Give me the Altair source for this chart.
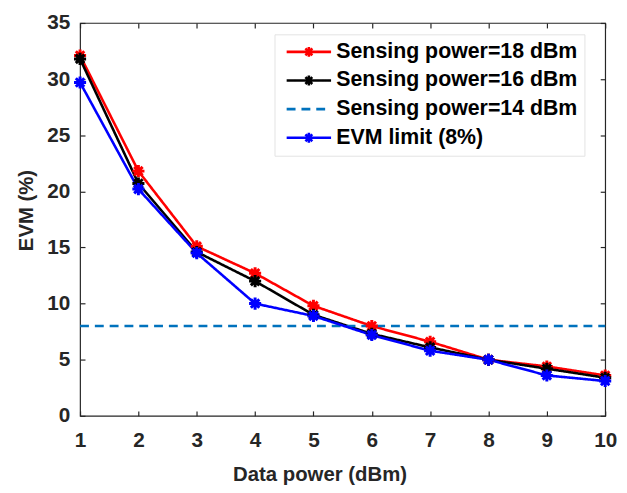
import altair as alt
import pandas as pd

# ---------------- data ----------------
x_vals = [1, 2, 3, 4, 5, 6, 7, 8, 9, 10]
evm_red = [32.1, 21.8, 15.1, 12.7, 9.8, 8.0, 6.6, 5.0, 4.4, 3.6]
evm_black = [31.8, 20.7, 14.6, 12.0, 9.0, 7.3, 6.1, 5.0, 4.2, 3.4]
evm_blue = [29.7, 20.2, 14.5, 10.0, 8.9, 7.2, 5.8, 5.0, 3.6, 3.1]
limit_x = [1, 10]
limit_y = [8, 8]

labels = ["Sensing power=18 dBm", "Sensing power=16 dBm",
          "Sensing power=14 dBm", "EVM limit (8%)"]
colors = ["#ff0000", "#000000", "#0072bd", "#0000ff"]
dashes = [[1, 0], [1, 0], [9, 6], [1, 0]]
widths = [2.6, 2.6, 1.5, 2.6]
y_ticks = [0, 5, 10, 15, 20, 25, 30, 35]

rows = []
for xv, yv in zip(x_vals, evm_red):
    rows.append({"x": xv, "y": yv, "series": labels[0]})
for xv, yv in zip(x_vals, evm_black):
    rows.append({"x": xv, "y": yv, "series": labels[1]})
for xv, yv in zip(limit_x, limit_y):
    rows.append({"x": xv, "y": yv, "series": labels[2]})
for xv, yv in zip(x_vals, evm_blue):
    rows.append({"x": xv, "y": yv, "series": labels[3]})
df = pd.DataFrame(rows)

FONT = "Liberation Sans"
AX = "#262626"
STAR = "M-1,0H1M0,-1V1M-0.7,-0.7L0.7,0.7M-0.7,0.7L0.7,-0.7"
LEG_STAR = "M-4.5,0H4.5M0,-1V1M-0.7,-0.7L0.7,0.7M-0.7,0.7L0.7,-0.7"
LEG_DASH = "M-4.5,0H4.5"
shapes = [LEG_STAR, LEG_STAR, LEG_DASH, LEG_STAR]

xscale = alt.Scale(domain=[1, 10], nice=False, zero=False)
yscale = alt.Scale(domain=[0, 35], nice=False)
cscale = alt.Scale(domain=labels, range=colors)
dscale = alt.Scale(domain=labels, range=dashes)
wscale = alt.Scale(domain=labels, range=widths)

common_axis = dict(offset=-5, tickSize=5, tickWidth=1.2, tickColor=AX,
                   domain=False, grid=False)

x_bottom = alt.Axis(orient="bottom", values=x_vals, format="d",
                    labelFont=FONT, labelFontSize=21, labelFontWeight="bold",
                    labelColor=AX, labelPadding=14, labelFlush=False,
                    labelOverlap=False,
                    title="Data power (dBm)", titleFont=FONT, titleFontSize=20.6,
                    titleFontWeight="bold", titleColor=AX, titleX=242.6,
                    titleY=70.5, titleBaseline="alphabetic", titleAlign="center",
                    **common_axis)
y_left = alt.Axis(orient="left", values=y_ticks, format="d",
                  labelFont=FONT, labelFontSize=21, labelFontWeight="bold",
                  labelColor=AX, labelPadding=10.5, labelFlush=False,
                  labelOverlap=False,
                  title="EVM (%)", titleFont=FONT, titleFontSize=20.6,
                  titleFontWeight="bold", titleColor=AX, titleX=-52.7,
                  titleY=189.5, titleBaseline="alphabetic", titleAngle=270,
                  titleAlign="center", **common_axis)
x_top = alt.Axis(orient="top", values=x_vals, labels=False, title=None,
                 **common_axis)
y_right = alt.Axis(orient="right", values=y_ticks, labels=False, title=None,
                   **common_axis)

leg = alt.Legend(orient="none", legendX=197, legendY=11.5, title=None,
                 padding=7, fillColor="white", strokeColor="#e3e3e3",
                 cornerRadius=0, labelFont=FONT, labelFontSize=21.6,
                 labelFontWeight="bold", labelColor="#000000", labelLimit=500,
                 symbolSize=100, symbolStrokeWidth=2, symbolOffset=17,
                 labelOffset=17, rowPadding=6, symbolOpacity=1)

lines = alt.Chart(df).mark_line().encode(
    x=alt.X("x:Q", scale=xscale, axis=x_bottom),
    y=alt.Y("y:Q", scale=yscale, axis=y_left),
    color=alt.Color("series:N", scale=cscale, legend=leg),
    strokeDash=alt.StrokeDash("series:N", scale=dscale, legend=leg),
    strokeWidth=alt.StrokeWidth("series:N", scale=wscale, legend=leg),
)

points = alt.Chart(df).transform_filter(
    alt.datum.series != labels[2]
).mark_point(shape=STAR, filled=False, size=150, strokeWidth=3,
             opacity=1).encode(
    x=alt.X("x:Q", scale=xscale, axis=x_top),
    y=alt.Y("y:Q", scale=yscale, axis=y_right),
    color=alt.Color("series:N", scale=cscale, legend=leg),
)

legend_layer = alt.Chart(df).mark_point(
    filled=False, opacity=0).encode(
    x=alt.X("x:Q", scale=xscale, axis=None),
    y=alt.Y("y:Q", scale=yscale, axis=None),
    color=alt.Color("series:N", scale=cscale, legend=leg),
    shape=alt.Shape("series:N", scale=alt.Scale(domain=labels, range=shapes),
                    legend=leg),
    strokeDash=alt.StrokeDash("series:N", scale=dscale, legend=leg),
)

chart = alt.layer(lines, points, legend_layer).resolve_axis(
    x="independent", y="independent"
).properties(
    width=532, height=398,
    padding={"left": 73, "top": 12, "right": 14, "bottom": 75},
    autosize=alt.AutoSizeParams(type="none"),
    background="white",
).configure_view(stroke=AX, strokeWidth=1.2)

chart.save("out.html", embed_options={"renderer": "svg", "actions": False})
